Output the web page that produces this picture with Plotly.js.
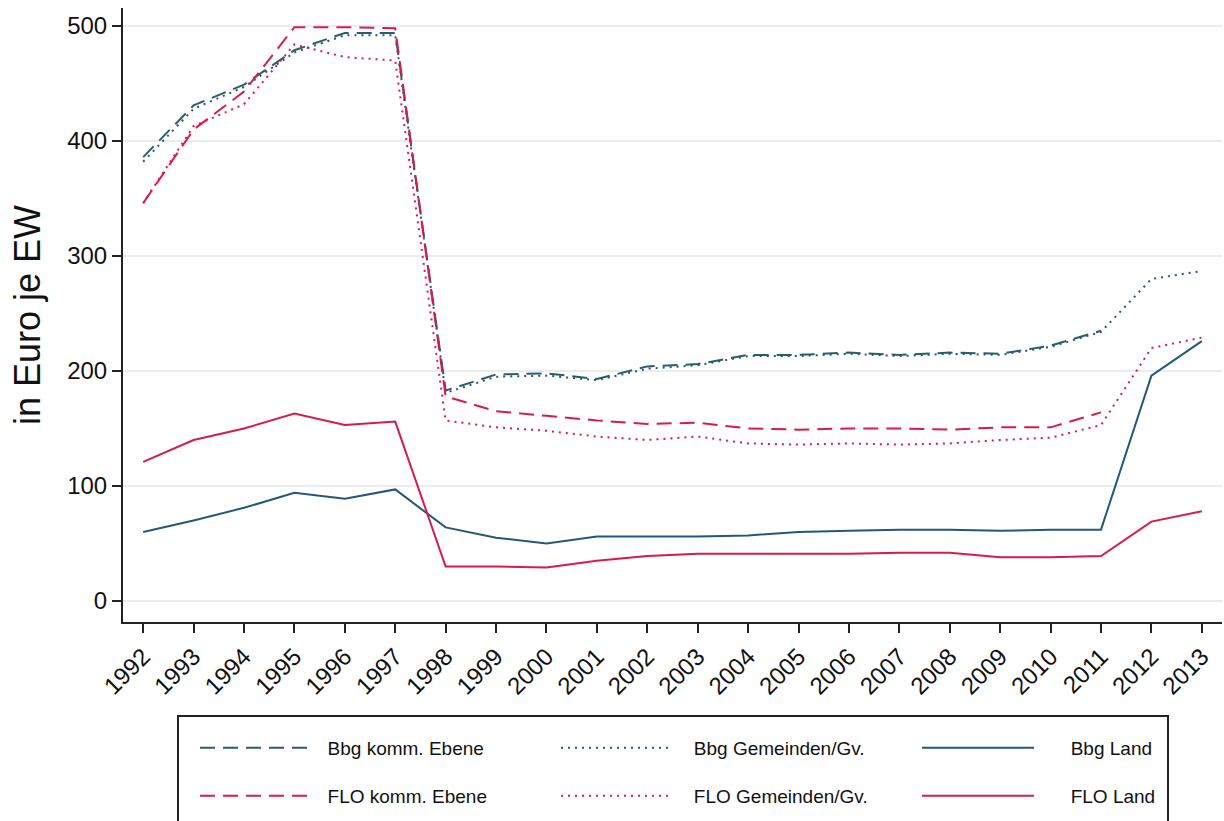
<!DOCTYPE html>
<html>
<head>
<meta charset="utf-8">
<script src="https://cdn.plot.ly/plotly-3.0.1.min.js"></script>
<style>html,body{margin:0;padding:0;background:#fff;}#chart{width:1224px;height:821px;}</style>
</head>
<body>
<div id="chart"></div>
<script>
const years = [1992,1993,1994,1995,1996,1997,1998,1999,2000,2001,2002,2003,2004,2005,2006,2007,2008,2009,2010,2011,2012,2013];
const bbgKomm   = [386,431,449,479,494,494,183,197,198,193,204,206,214,214,216,214,216,215,222,235,null,null];
const bbgGem    = [382,428,447,477,492,492,181,195,196,192,202,205,213,213,215,213,215,214,221,234,280,287];
const bbgLand   = [60,70,81,94,89,97,64,55,50,56,56,56,57,60,61,62,62,61,62,62,196,226];
const floKomm   = [346,410,443,499,499,498,178,165,161,157,154,155,150,149,150,150,149,151,151,164,null,null];
const floGem    = [346,413,432,484,473,470,157,151,148,143,140,143,137,136,137,136,137,140,142,153,220,229];
const floLand   = [121,140,150,163,153,156,30,30,29,35,39,41,41,41,41,42,42,38,38,39,69,78];
const seriesNames = ["Bbg komm. Ebene","Bbg Gemeinden/Gv.","Bbg Land","FLO komm. Ebene","FLO Gemeinden/Gv.","FLO Land"];
const yTicks = [0,100,200,300,400,500];

const BLUE = '#25577a', TEAL = '#2c5d6e', RED = '#d81b4c';
const FONT = 'Liberation Sans, Arial, sans-serif';
const NB = '\u00a0';
function tr(y, name, color, dash, legend, pad){
  return {x: years, y: y, name: NB.repeat(pad) + name, type: 'scatter', mode: 'lines',
    line: {color: color, width: 2, dash: dash}, legend: legend, connectgaps: false};
}
const data = [
  tr(bbgKomm, seriesNames[0], TEAL, '15px,8px', 'legend', 2),
  tr(bbgGem, seriesNames[1], BLUE, '2px,5px', 'legend', 3),
  tr(bbgLand, seriesNames[2], BLUE, 'solid', 'legend', 6),
  tr(floKomm, seriesNames[3], RED, '15px,8px', 'legend2', 2),
  tr(floGem, seriesNames[4], RED, '2px,5px', 'legend2', 3),
  tr(floLand, seriesNames[5], RED, 'solid', 'legend2', 6)
];
const legendBase = {orientation: 'h', xref: 'paper', yref: 'paper', xanchor: 'left', yanchor: 'middle',
  bgcolor: 'rgba(0,0,0,0)', borderwidth: 0, itemwidth: 112, entrywidth: 234, entrywidthmode: 'pixels',
  font: {family: FONT, size: 19, color: '#111'}, traceorder: 'normal', itemclick: false};
const layout = {
  width: 1224, height: 821,
  margin: {l: 123, r: 2, t: 8, b: 199, autoexpand: false},
  paper_bgcolor: '#fff', plot_bgcolor: '#fff',
  font: {family: FONT, color: '#111'},
  showlegend: true,
  legend: Object.assign({}, legendBase, {x: (195-123)/1099, y: (622-748)/614}),
  legend2: Object.assign({}, legendBase, {x: (195-123)/1099, y: (622-796)/614}),
  xaxis: {range: [1991.6, 2013.4], tickmode: 'array', tickvals: years, ticktext: years.map(String),
    tickangle: -45, ticks: 'outside', ticklen: 9, tickwidth: 2, tickcolor: '#222',
    showline: true, linewidth: 2, linecolor: '#222', showgrid: false, zeroline: false,
    tickfont: {size: 24, family: FONT, color: '#111'}},
  yaxis: {range: [-18.3, 515.7], tickmode: 'array', tickvals: yTicks, ticks: 'outside', ticklen: 9, tickwidth: 2,
    tickcolor: '#222', showline: true, linewidth: 2, linecolor: '#222', showgrid: true, gridcolor: '#e9edf0',
    gridwidth: 1.5, zeroline: false,
    tickfont: {size: 24, family: FONT, color: '#111'},
    title: {text: 'in Euro je EW', font: {size: 36, family: FONT, color: '#111'}, standoff: 16}},
  shapes: [{type: 'rect', xref: 'paper', yref: 'paper', x0: 55/1099, x1: 1045/1099, y0: -0.36, y1: (622-716)/614,
    line: {color: '#222', width: 2}, fillcolor: 'rgba(0,0,0,0)'}]
};
Plotly.newPlot('chart', data, layout, {displayModeBar: false, staticPlot: true});
</script>
</body>
</html>
